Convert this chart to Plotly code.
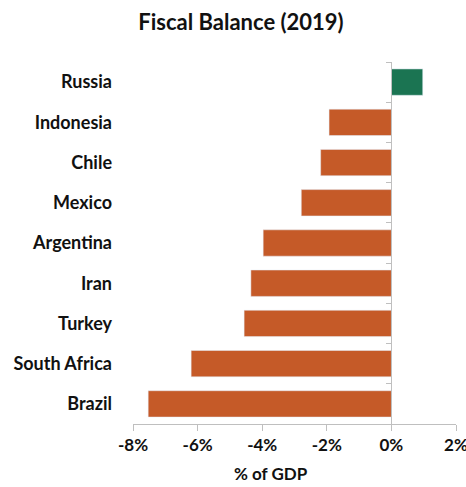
import plotly.graph_objects as go

countries = ["Brazil", "South Africa", "Turkey", "Iran", "Argentina", "Mexico", "Chile", "Indonesia", "Russia"]
balance = [-7.53, -6.2, -4.56, -4.35, -3.97, -2.79, -2.19, -1.93, 0.97]
tick_vals = [-8, -6, -4, -2, 0, 2]
tick_text = ["-8%", "-6%", "-4%", "-2%", "0%", "2%"]

ORANGE = "#C55A28"
GREEN = "#1B7452"
colors = [GREEN if v > 0 else ORANGE for v in balance]
FONT = "Lato"
AX = "#BFBFBF"
TXT = "#111111"

fig = go.Figure()
fig.add_trace(go.Bar(x=balance, y=countries, orientation="h", marker=dict(color=colors, line=dict(width=0)),
                     xaxis="x", yaxis="y", hoverinfo="x+y"))
# invisible copy on overlay axis so its category boundary ticks render at x=0
fig.add_trace(go.Bar(x=balance, y=countries, orientation="h", marker=dict(color="rgba(0,0,0,0)"),
                     xaxis="x", yaxis="y2", hoverinfo="skip", showlegend=False))

fig.update_layout(
    width=466, height=487,
    margin=dict(l=133, r=10, t=62, b=63),
    paper_bgcolor="white", plot_bgcolor="white",
    showlegend=False,
    bargap=0.345,
    font=dict(family=FONT, color=TXT),
    title=dict(text="<b>Fiscal Balance (2019)</b>", x=0.517, xanchor="center", y=0.955, yanchor="middle",
               font=dict(size=22, family=FONT, color=TXT), automargin=False),
    xaxis=dict(range=[-8, 2.0001], tickvals=tick_vals, ticktext=tick_text, showgrid=False, zeroline=False,
               showline=True, linecolor=AX, linewidth=1, ticks="outside", ticklen=6, tickcolor=AX,
               ticklabeloverflow="allow", automargin=False,
               tickfont=dict(size=17, family=FONT, color=TXT, weight="bold"), fixedrange=True),
    yaxis=dict(type="category", categoryorder="array", categoryarray=countries, showgrid=False,
               showline=False, ticks="", ticklabelstandoff=20, automargin=False,
               tickfont=dict(size=18, family=FONT, color=TXT, weight="bold")),
    yaxis2=dict(type="category", categoryorder="array", categoryarray=countries, overlaying="y",
                matches="y", anchor="free", position=0.8, side="left", showgrid=False,
                showline=True, linecolor=AX, linewidth=1, ticks="outside", tickson="boundaries",
                ticklen=5, tickcolor=AX, showticklabels=False, automargin=False),
    annotations=[dict(text="<b>% of GDP</b>", xref="paper", yref="paper", x=0.427, y=-0.138,
                      xanchor="center", yanchor="middle", showarrow=False,
                      font=dict(size=17, family=FONT, color=TXT))],
)

fig.write_html("out.html")
